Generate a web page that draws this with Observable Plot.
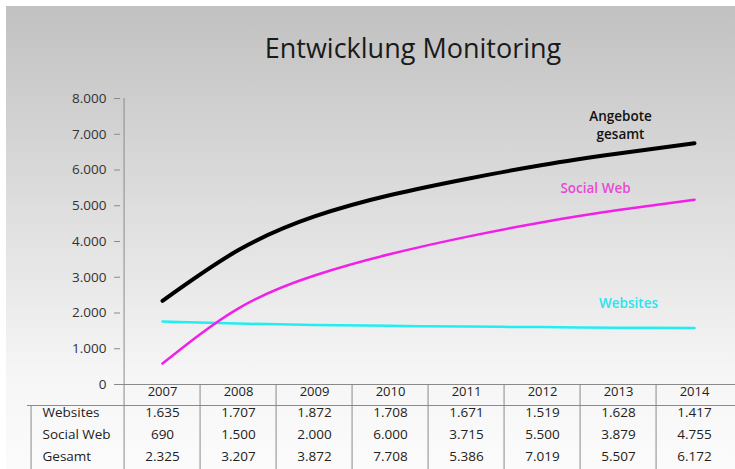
<!DOCTYPE html>
<html>
<head>
<meta charset="utf-8">
<script src="https://cdn.jsdelivr.net/npm/d3@7"></script>
<script src="https://cdn.jsdelivr.net/npm/@observablehq/plot@0.6"></script>
<style>
  html, body { margin: 0; padding: 0; background: #ffffff; }
  #wrap {
    position: absolute; left: 6px; top: 6px; width: 729px; height: 463px;
    background: linear-gradient(to bottom, #c1c1c1 0%, #f6f6f6 80%, #fbfbfb 100%);
    overflow: hidden;
  }
  #title {
    height: 74px; box-sizing: border-box; padding-left: 85px; padding-top: 23px;
    text-align: center; font-family: "Open Sans", sans-serif; font-size: 27px; color: #1a1a1a;
  }
  #chart svg { display: block; }
</style>
</head>
<body>
<div id="wrap">
  <div id="title">Entwicklung Monitoring</div>
  <div id="chart"></div>
</div>
<script>
// ---- data ----
const years = ["2007", "2008", "2009", "2010", "2011", "2012", "2013", "2014"];
const websites = [1635, 1707, 1872, 1708, 1671, 1519, 1628, 1417];
const socialWeb = [690, 1500, 2000, 6000, 3715, 5500, 3879, 4755];
const gesamt = [2325, 3207, 3872, 7708, 5386, 7019, 5507, 6172];
// trend curves
const gesamtTrend = [2340, 3760, 4700, 5300, 5750, 6140, 6460, 6750];
const socialTrend = [585, 2130, 3050, 3650, 4130, 4540, 4880, 5170];
const websitesTrend = [1760, 1705, 1665, 1640, 1620, 1605, 1590, 1580];
const rowLabels = ["Websites", "Social Web", "Gesamt"];
const seriesLabels = ["Angebote\ngesamt", "Social Web", "Websites"];
const yTicks = [0, 1000, 2000, 3000, 4000, 5000, 6000, 7000, 8000];

// ---- layout ----
const W = 729, H = 389, mt = 18, mb = 85, ml = 114, mr = 0;
const frameH = H - mt - mb;
const half = (W - ml - mr) / years.length / 2;
const de = d3.formatLocale({decimal: ",", thousands: ".", grouping: [3], currency: ["", "€"]});
const fmt = de.format(",");
const FONT = "Open Sans, sans-serif";
const lineCol = "#8a8a8a";

const trendRows = (vals) => years.map((y, i) => ({year: y, value: vals[i]}));
const tableRows = [websites, socialWeb, gesamt];
const rowDy = [32, 54, 76];

const marks = [
  // axis line + table column separators
  Plot.ruleX([years[0]], {dx: -half, stroke: lineCol, insetBottom: -mb}),
  Plot.ruleX(years.slice(1), {dx: -half, stroke: lineCol, insetTop: frameH, insetBottom: -mb}),
  Plot.ruleX([years[0]], {dx: -half - 93, stroke: lineCol, insetTop: frameH + 21, insetBottom: -mb}),
  Plot.ruleY([0], {stroke: lineCol}),
  Plot.ruleY([0], {stroke: lineCol, dy: 21, insetLeft: -93}),
  Plot.axisY({ticks: yTicks, tickFormat: fmt, tickSize: 6, tickPadding: 8, stroke: lineCol,
              fill: "#333", fontSize: 13.5, fontFamily: FONT, label: null}),
  // trend lines
  Plot.line(trendRows(websitesTrend), {x: "year", y: "value", stroke: "#22eef2", strokeWidth: 2.5, curve: "natural"}),
  Plot.line(trendRows(socialTrend), {x: "year", y: "value", stroke: "#f020e8", strokeWidth: 2.5, curve: "natural"}),
  Plot.line(trendRows(gesamtTrend), {x: "year", y: "value", stroke: "#000", strokeWidth: 4, curve: "natural"}),
  // series labels
  Plot.text([seriesLabels[0]], {x: () => "2013", y: () => 7270, text: d => d, dx: 2, fill: "#111",
    fontSize: 13.5, fontWeight: 600, fontFamily: FONT, lineHeight: 1.3}),
  Plot.text([seriesLabels[1]], {x: () => "2013", y: () => 5480, text: d => d, dx: -23, fill: "#e84ad4",
    fontSize: 13.5, fontWeight: 600, fontFamily: FONT}),
  Plot.text([seriesLabels[2]], {x: () => "2013", y: () => 2270, text: d => d, dx: 10, fill: "#27e4ef",
    fontSize: 13.5, fontWeight: 600, fontFamily: FONT}),
  // table header
  Plot.text(years, {x: d => d, text: d => d, frameAnchor: "bottom", dy: 11, fill: "#222", fontSize: 13, fontFamily: FONT})
];
tableRows.forEach((vals, r) => {
  marks.push(Plot.text(years, {x: d => d, text: (d, i) => fmt(vals[i]), frameAnchor: "bottom", dy: rowDy[r],
    fill: "#222", fontSize: 13.5, fontFamily: FONT}));
  marks.push(Plot.text([rowLabels[r]], {text: d => d, frameAnchor: "bottom-left", dx: -78, dy: rowDy[r],
    textAnchor: "start", fill: "#222", fontSize: 13.5, fontFamily: FONT}));
});

const chart = Plot.plot({
  width: W, height: H,
  marginTop: mt, marginBottom: mb, marginLeft: ml, marginRight: mr,
  style: {background: "transparent", fontFamily: FONT, overflow: "visible"},
  x: {type: "point", domain: years, padding: 0.5, axis: null},
  y: {domain: [0, 8000], axis: null},
  marks
});
document.getElementById("chart").appendChild(chart);
</script>
</body>
</html>
